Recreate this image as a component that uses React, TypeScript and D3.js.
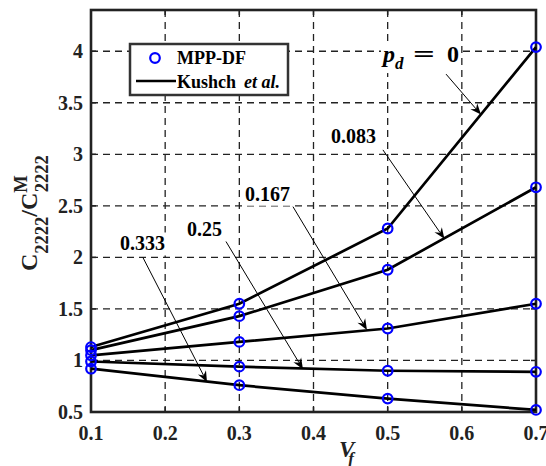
import React from "react";
import * as d3 from "d3";

const volumeFractions = [0.1, 0.3, 0.5, 0.7];
const pd0 = [1.13, 1.55, 2.28, 4.04];
const pd083 = [1.1, 1.43, 1.88, 2.68];
const pd167 = [1.05, 1.18, 1.31, 1.55];
const pd25 = [0.99, 0.94, 0.9, 0.89];
const pd333 = [0.92, 0.76, 0.63, 0.52];
const seriesList = [pd0, pd083, pd167, pd25, pd333];

const xTicks = [0.1, 0.2, 0.3, 0.4, 0.5, 0.6, 0.7];
const yTicks = [0.5, 1, 1.5, 2, 2.5, 3, 3.5, 4];

// annotations: label, label anchor (data coords), arrow tail, arrow head (data coords)
const annotations = [
  { label: "0.083", lx: 0.4236, ly: 3.111, tx: 0.4936, ty: 3.043, hx: 0.5765, hy: 2.18 },
  { label: "0.167", lx: 0.3076, ly: 2.55, tx: 0.3723, ty: 2.492, hx: 0.4721, hy: 1.296 },
  { label: "0.25", lx: 0.2294, ly: 2.212, tx: 0.282, ty: 2.154, hx: 0.3858, hy: 0.915 },
  { label: "0.333", lx: 0.139, ly: 2.067, tx: 0.17, ty: 1.999, hx: 0.2564, hy: 0.79 },
];
const pdArrow = { lx: 0.4936, ly: 3.895, tx: 0.5787, ty: 3.778, hx: 0.6258, hy: 3.385 };

const W = 546;
const H = 466;
const left = 91;
const right = 536;
const top = 10;
const bottom = 412;

const FONT = "'Liberation Serif', 'Times New Roman', Times, serif";

function Arrow({ x1, y1, x2, y2 }: { x1: number; y1: number; x2: number; y2: number }) {
  const ang = Math.atan2(y2 - y1, x2 - x1);
  const len = 11;
  const half = 4.5;
  const notch = 7.5;
  const cx = Math.cos(ang);
  const sy = Math.sin(ang);
  const bx = x2 - len * cx;
  const by = y2 - len * sy;
  const nx = x2 - notch * cx;
  const ny = y2 - notch * sy;
  const px = -sy;
  const py = cx;
  const pts = [
    [x2, y2],
    [bx + half * px, by + half * py],
    [nx, ny],
    [bx - half * px, by - half * py],
  ];
  return (
    <g>
      <line x1={x1} y1={y1} x2={nx} y2={ny} stroke="#000" strokeWidth={1} />
      <polygon points={pts.map((p) => p.join(",")).join(" ")} fill="#000" />
    </g>
  );
}

function labelWidth(s: string) {
  let w = 0;
  for (const ch of s) w += ch === "." ? 5 : 10;
  return w;
}

export default function App() {
  const x = d3.scaleLinear().domain([0.1, 0.7]).range([left, right]);
  const y = d3.scaleLinear().domain([0.5, 4.4]).range([bottom, top]);
  const line = d3
    .line<number>()
    .x((_, i) => x(volumeFractions[i]))
    .y((d) => y(d));

  const axisColor = "#222";
  const tf = { fontFamily: FONT, fontWeight: 700 as const };
  const pdX = x(pdArrow.lx);
  const pdY = y(pdArrow.ly);

  return (
    <svg
      width={W}
      height={H}
      style={{ position: "absolute", left: 0, top: 0, background: "#fff", fontFamily: FONT }}
    >
      <rect x={0} y={0} width={W} height={H} fill="#fff" />
      {/* grid */}
      <g stroke="#222" strokeWidth={1.3} strokeDasharray="7,5">
        {xTicks.slice(1, -1).map((t) => (
          <line key={"gx" + t} x1={x(t)} x2={x(t)} y1={top} y2={bottom} />
        ))}
        {yTicks.slice(1).map((t) => (
          <line key={"gy" + t} x1={left} x2={right} y1={y(t)} y2={y(t)} />
        ))}
      </g>
      {/* label backgrounds */}
      <g fill="#fff">
        {annotations.map((a) => (
          <rect
            key={"bg" + a.label}
            x={x(a.lx) - 2}
            y={y(a.ly) - 18}
            width={labelWidth(a.label) + 4}
            height={23}
          />
        ))}
        <rect x={pdX - 2} y={pdY - 18} width={77} height={29} />
      </g>
      {/* ticks inward */}
      <g stroke={axisColor} strokeWidth={1.5}>
        {xTicks.map((t) => (
          <g key={"tx" + t}>
            <line x1={x(t)} x2={x(t)} y1={bottom} y2={bottom - 5} />
            <line x1={x(t)} x2={x(t)} y1={top} y2={top + 5} />
          </g>
        ))}
        {yTicks.map((t) => (
          <g key={"ty" + t}>
            <line x1={left} x2={left + 5} y1={y(t)} y2={y(t)} />
            <line x1={right} x2={right - 5} y1={y(t)} y2={y(t)} />
          </g>
        ))}
      </g>
      {/* tick labels */}
      <g fontSize={20} fill="#222">
        {xTicks.map((t) => (
          <text key={"xl" + t} x={x(t)} y={440} textAnchor="middle" style={tf}>
            {d3.format(".1f")(t)}
          </text>
        ))}
        {yTicks.map((t) => (
          <text key={"yl" + t} x={83} y={y(t) + 7} textAnchor="end" style={tf}>
            {String(t)}
          </text>
        ))}
      </g>
      {/* annotation arrows */}
      <Arrow x1={x(pdArrow.tx)} y1={y(pdArrow.ty)} x2={x(pdArrow.hx)} y2={y(pdArrow.hy)} />
      {annotations.map((a) => (
        <Arrow key={"ar" + a.label} x1={x(a.tx)} y1={y(a.ty)} x2={x(a.hx)} y2={y(a.hy)} />
      ))}
      {/* axes box */}
      <rect
        x={left}
        y={top}
        width={right - left}
        height={bottom - top}
        fill="none"
        stroke={axisColor}
        strokeWidth={2.6}
      />
      {/* series lines */}
      <g fill="none" stroke="#000" strokeWidth={2.7}>
        {seriesList.map((s, i) => (
          <path key={"l" + i} d={line(s) || ""} />
        ))}
      </g>
      {/* markers */}
      <g fill="none" stroke="#0000ff" strokeWidth={2.2}>
        {seriesList.map((s, i) =>
          s.map((v, j) => (
            <circle key={"m" + i + "-" + j} cx={x(volumeFractions[j])} cy={y(v)} r={4.8} />
          ))
        )}
      </g>
      {/* annotation labels */}
      <g fontSize={20} fill="#000">
        {annotations.map((a) => (
          <text key={"al" + a.label} x={x(a.lx)} y={y(a.ly)} style={tf}>
            {a.label}
          </text>
        ))}
        <text x={pdX} y={pdY} style={tf} fontSize={24}>
          <tspan fontStyle="italic">p</tspan>
          <tspan fontStyle="italic" fontSize={17} dy={7}>d</tspan>
          <tspan x={pdX + 64} dy={-7}>0</tspan>
        </text>
        <text
          transform={`translate(${pdX + 30},${pdY}) scale(1.6,1)`}
          style={tf}
          fontSize={24}
        >
          =
        </text>
      </g>
      {/* legend */}
      <g>
        <rect x={130} y={44} width={158} height={51} fill="#fff" stroke="#333" strokeWidth={2.5} />
        <circle cx={155} cy={58} r={4.8} fill="none" stroke="#0000ff" strokeWidth={2.2} />
        <text x={177} y={64} fontSize={18} fill="#000" style={tf}>MPP-DF</text>
        <line x1={136} x2={176} y1={81} y2={81} stroke="#000" strokeWidth={2.7} />
        <text x={177} y={88} fontSize={18} fill="#000" style={tf}>
          Kushch
          <tspan fontStyle="italic" dx={8}>et al.</tspan>
        </text>
      </g>
      {/* x label */}
      <text x={339} y={457} fontSize={23} fill="#222" style={{ ...tf, fontStyle: "italic" }}>
        V
        <tspan fontSize={17} dy={7} dx={-6}>f</tspan>
      </text>
      {/* y label */}
      <text transform="translate(37,271) rotate(-90)" fontSize={24} fill="#222" style={tf}>
        C
        <tspan fontSize={18.5} dy={11}>2222</tspan>
        <tspan dy={-11}>/C</tspan>
        <tspan fontSize={18.5} dy={-10}>M</tspan>
        <tspan fontSize={18.5} dy={21} dx={-17}>2222</tspan>
      </text>
    </svg>
  );
}
